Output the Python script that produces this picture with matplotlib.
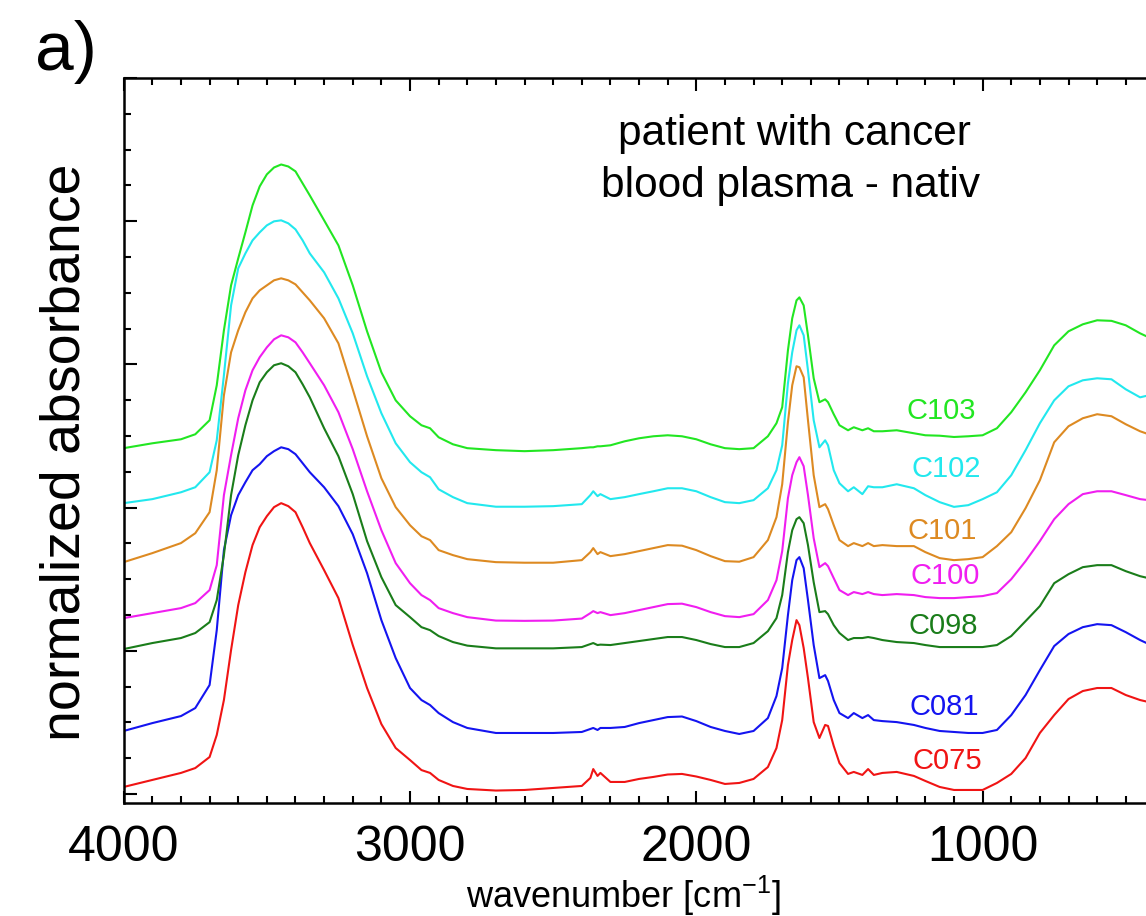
import matplotlib
matplotlib.use("Agg")
import matplotlib.pyplot as plt
from matplotlib import font_manager
from matplotlib.ticker import MultipleLocator

# fonts: Origin-style narrow labels if available
names = {f.name for f in font_manager.fontManager.ttflist}
NARROW = "Liberation Sans Narrow" if "Liberation Sans Narrow" in names else "Liberation Sans"
REG = "Liberation Sans"
plt.rcParams["font.family"] = [REG, "DejaVu Sans"]
plt.rcParams["mathtext.fontset"] = "custom"
plt.rcParams["mathtext.rm"] = NARROW
plt.rcParams["mathtext.it"] = NARROW
plt.rcParams["mathtext.default"] = "rm"

# wavenumber grid (cm^-1) and normalized absorbance (offset per sample)
wavenumber = [4000, 3900, 3800, 3750, 3700, 3675, 3650, 3625, 3600, 3575,
              3550, 3525, 3500, 3475, 3450, 3425, 3400, 3375, 3350, 3300,
              3250, 3200, 3150, 3100, 3050, 3000, 2960, 2930, 2900, 2850,
              2800, 2700, 2600, 2500, 2400, 2370, 2360, 2345, 2335, 2300,
              2250, 2200, 2150, 2100, 2050, 2000, 1950, 1900, 1850, 1800,
              1750, 1720, 1700, 1680, 1665, 1650, 1640, 1625, 1610, 1590,
              1570, 1550, 1540, 1520, 1500, 1470, 1450, 1420, 1400, 1380,
              1350, 1300, 1240, 1200, 1150, 1100, 1050, 1000, 950, 900,
              850, 800, 750, 700, 650, 600, 550, 500, 450, 420]

c075 = [0.049, 0.098, 0.147, 0.181, 0.258, 0.412, 0.656, 1.005, 1.319, 1.549,
        1.738, 1.863, 1.940, 2.003, 2.031, 2.010, 1.968, 1.863, 1.752, 1.563,
        1.368, 1.040, 0.740, 0.488, 0.321, 0.237, 0.167, 0.147, 0.098, 0.056,
        0.035, 0.024, 0.028, 0.042, 0.056, 0.112, 0.174, 0.126, 0.147, 0.084,
        0.084, 0.105, 0.119, 0.136, 0.140, 0.122, 0.098, 0.070, 0.077, 0.105,
        0.188, 0.321, 0.516, 0.900, 1.075, 1.214, 1.179, 1.019, 0.809, 0.502,
        0.391, 0.482, 0.475, 0.335, 0.216, 0.140, 0.154, 0.133, 0.174, 0.133,
        0.147, 0.154, 0.126, 0.091, 0.049, 0.028, 0.028, 0.028, 0.077, 0.140,
        0.251, 0.426, 0.551, 0.663, 0.719, 0.740, 0.740, 0.691, 0.656, 0.642]

c081 = [0.440, 0.495, 0.544, 0.600, 0.761, 1.144, 1.703, 1.947, 2.087, 2.177,
        2.261, 2.303, 2.359, 2.394, 2.421, 2.408, 2.373, 2.310, 2.247, 2.142,
        2.010, 1.814, 1.542, 1.214, 0.949, 0.740, 0.656, 0.621, 0.565, 0.502,
        0.461, 0.426, 0.426, 0.426, 0.433, 0.454, 0.461, 0.447, 0.461, 0.461,
        0.468, 0.495, 0.516, 0.537, 0.541, 0.509, 0.468, 0.440, 0.419, 0.440,
        0.530, 0.684, 0.879, 1.249, 1.493, 1.633, 1.654, 1.577, 1.354, 1.040,
        0.809, 0.830, 0.789, 0.656, 0.565, 0.530, 0.565, 0.530, 0.551, 0.516,
        0.509, 0.502, 0.482, 0.461, 0.440, 0.433, 0.426, 0.426, 0.447, 0.551,
        0.691, 0.865, 1.033, 1.117, 1.165, 1.186, 1.179, 1.130, 1.075, 1.047]

c098 = [1.012, 1.054, 1.089, 1.124, 1.200, 1.354, 1.668, 2.087, 2.366, 2.575,
        2.749, 2.875, 2.945, 2.994, 3.008, 2.987, 2.945, 2.861, 2.770, 2.554,
        2.359, 2.094, 1.766, 1.514, 1.319, 1.235, 1.165, 1.144, 1.103, 1.061,
        1.036, 1.017, 1.017, 1.017, 1.026, 1.047, 1.054, 1.040, 1.043, 1.040,
        1.054, 1.068, 1.082, 1.096, 1.096, 1.075, 1.047, 1.026, 1.026, 1.054,
        1.137, 1.228, 1.389, 1.689, 1.842, 1.919, 1.933, 1.891, 1.738, 1.479,
        1.270, 1.277, 1.256, 1.179, 1.124, 1.075, 1.089, 1.089, 1.096, 1.089,
        1.075, 1.061, 1.054, 1.040, 1.026, 1.026, 1.026, 1.026, 1.040, 1.103,
        1.207, 1.312, 1.472, 1.535, 1.584, 1.598, 1.598, 1.556, 1.521, 1.507]

c100 = [1.228, 1.263, 1.298, 1.333, 1.424, 1.598, 2.087, 2.366, 2.624, 2.819,
        2.959, 3.050, 3.119, 3.175, 3.203, 3.189, 3.154, 3.084, 3.008, 2.854,
        2.666, 2.408, 2.114, 1.842, 1.612, 1.472, 1.389, 1.354, 1.298, 1.263,
        1.235, 1.211, 1.209, 1.211, 1.225, 1.263, 1.277, 1.263, 1.270, 1.249,
        1.263, 1.284, 1.305, 1.326, 1.329, 1.305, 1.270, 1.242, 1.235, 1.256,
        1.354, 1.493, 1.696, 2.066, 2.226, 2.317, 2.352, 2.289, 2.087, 1.786,
        1.584, 1.612, 1.591, 1.507, 1.424, 1.389, 1.410, 1.396, 1.410, 1.396,
        1.389, 1.396, 1.389, 1.375, 1.368, 1.368, 1.375, 1.382, 1.403, 1.500,
        1.626, 1.766, 1.919, 2.024, 2.094, 2.114, 2.114, 2.087, 2.059, 2.052]

c101 = [1.619, 1.682, 1.752, 1.821, 1.968, 2.261, 2.784, 3.084, 3.238, 3.364,
        3.461, 3.517, 3.552, 3.587, 3.601, 3.587, 3.559, 3.503, 3.447, 3.322,
        3.147, 2.826, 2.498, 2.205, 2.003, 1.877, 1.800, 1.773, 1.703, 1.668,
        1.640, 1.619, 1.615, 1.615, 1.633, 1.689, 1.717, 1.675, 1.689, 1.661,
        1.675, 1.696, 1.717, 1.738, 1.734, 1.703, 1.661, 1.626, 1.622, 1.654,
        1.773, 1.933, 2.163, 2.596, 2.854, 2.987, 2.980, 2.910, 2.610, 2.226,
        2.003, 2.024, 1.989, 1.877, 1.773, 1.731, 1.752, 1.731, 1.752, 1.731,
        1.738, 1.731, 1.731, 1.689, 1.647, 1.633, 1.640, 1.654, 1.731, 1.828,
        1.996, 2.191, 2.456, 2.568, 2.624, 2.652, 2.638, 2.582, 2.533, 2.512]

c102 = [2.031, 2.059, 2.107, 2.142, 2.247, 2.470, 2.924, 3.412, 3.671, 3.775,
        3.866, 3.922, 3.971, 3.999, 4.006, 3.985, 3.943, 3.866, 3.775, 3.643,
        3.461, 3.217, 2.917, 2.659, 2.449, 2.317, 2.247, 2.212, 2.128, 2.073,
        2.031, 2.006, 2.006, 2.010, 2.024, 2.087, 2.114, 2.080, 2.094, 2.059,
        2.073, 2.094, 2.114, 2.135, 2.135, 2.114, 2.073, 2.038, 2.031, 2.052,
        2.135, 2.261, 2.435, 2.868, 3.084, 3.238, 3.273, 3.203, 2.959, 2.610,
        2.421, 2.470, 2.435, 2.261, 2.170, 2.114, 2.142, 2.094, 2.149, 2.142,
        2.142, 2.163, 2.135, 2.087, 2.038, 2.005, 2.017, 2.059, 2.107, 2.226,
        2.401, 2.589, 2.749, 2.847, 2.889, 2.903, 2.896, 2.826, 2.770, 2.784]

c103 = [2.415, 2.449, 2.477, 2.512, 2.610, 2.854, 3.238, 3.552, 3.740, 3.922,
        4.110, 4.243, 4.327, 4.375, 4.396, 4.382, 4.348, 4.264, 4.180, 4.006,
        3.831, 3.552, 3.231, 2.945, 2.749, 2.638, 2.575, 2.554, 2.491, 2.442,
        2.415, 2.401, 2.394, 2.401, 2.415, 2.421, 2.421, 2.428, 2.428, 2.435,
        2.463, 2.484, 2.498, 2.505, 2.498, 2.477, 2.442, 2.415, 2.408, 2.415,
        2.498, 2.589, 2.701, 3.098, 3.322, 3.447, 3.468, 3.412, 3.203, 2.903,
        2.736, 2.756, 2.736, 2.652, 2.575, 2.540, 2.561, 2.540, 2.554, 2.533,
        2.533, 2.540, 2.519, 2.505, 2.502, 2.493, 2.498, 2.505, 2.554, 2.666,
        2.805, 2.959, 3.133, 3.231, 3.280, 3.308, 3.304, 3.273, 3.217, 3.189]

samples = ["C075", "C081", "C098", "C100", "C101", "C102", "C103"]
spectra = [c075, c081, c098, c100, c101, c102, c103]
colors = ["#f01414", "#1414f0", "#1a7d1a", "#f01ef0", "#dd8a22", "#22e8ee", "#22e622"]
# label positions (axes fraction)
label_pos = [(0.799, 0.058), (0.796, 0.132), (0.795, 0.244), (0.797, 0.313),
             (0.794, 0.375), (0.798, 0.461), (0.793, 0.541)]

W, H = 1146, 916
fig = plt.figure(figsize=(W / 100, H / 100), dpi=100)
ax = fig.add_axes([123.7 / W, 113 / H, (1154.4 - 123.7) / W, 725 / H])

for name, y, c, (lx, ly) in zip(samples, spectra, colors, label_pos):
    ax.plot(wavenumber, y, color=c, lw=1.5)
    ax.text(lx, ly, name, color=c, fontsize=21, family=[REG, "DejaVu Sans"],
            ha="center", va="center", transform=ax.transAxes)

ax.set_xlim(4000, 400)
ax.set_ylim(-0.063, 5.0)
ax.xaxis.set_major_locator(MultipleLocator(1000))
ax.xaxis.set_minor_locator(MultipleLocator(100))
ax.yaxis.set_major_locator(MultipleLocator(1))
ax.yaxis.set_minor_locator(MultipleLocator(0.25))
ax.tick_params(which="both", direction="in", top=True, right=False, width=1.5)
ax.tick_params(which="major", length=9, pad=16)
ax.tick_params(which="minor", length=5)
ax.tick_params(axis="y", labelleft=False)
for lab in ax.get_xticklabels():
    lab.set_fontsize(36)
    lab.set_family([NARROW, "DejaVu Sans"])
for s in ax.spines.values():
    s.set_linewidth(1.8)

ax.text(0.651, 0.908, "patient with cancer", fontsize=30.5, ha="center",
        va="baseline", transform=ax.transAxes)
ax.text(0.647, 0.836, "blood plasma - nativ", fontsize=30.5, ha="center",
        va="baseline", transform=ax.transAxes)

fig.text(66 / W, 1 - 452 / H, "normalized absorbance", rotation=90, fontsize=40,
         family=[NARROW, "DejaVu Sans"], ha="center", va="center")
fig.text(623 / W, 1 - 908 / H, "wavenumber [cm$^{-1}$]", fontsize=26,
         family=[NARROW, "DejaVu Sans"], ha="center", va="baseline")
fig.text(35 / W, 1 - 70 / H, "a)", fontsize=50, ha="left", va="baseline")

fig.savefig("out.png", dpi=100)
